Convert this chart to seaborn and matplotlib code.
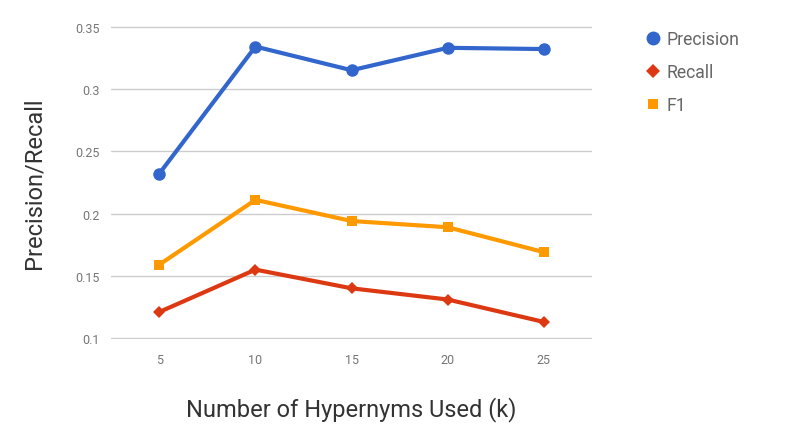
import pandas as pd
import seaborn as sns
import matplotlib.pyplot as plt
from matplotlib.lines import Line2D

# valeurs
k_values = [5, 10, 15, 20, 25]
precision = [0.232, 0.334, 0.315, 0.333, 0.332]
recall = [0.121, 0.155, 0.140, 0.131, 0.113]
f1 = [0.159, 0.211, 0.194, 0.189, 0.169]

metrics = ['Precision', 'Recall', 'F1']
colors = {'Precision': '#3366cc', 'Recall': '#dc3912', 'F1': '#ff9900'}
markers = {'Precision': 'o', 'Recall': 'D', 'F1': 's'}
msizes = {'Precision': 9, 'Recall': 6.5, 'F1': 6.5}

df = pd.DataFrame({'k': k_values, 'Precision': precision, 'Recall': recall, 'F1': f1})
long_df = df.melt(id_vars='k', var_name='metric', value_name='value')

sns.set_style('whitegrid')
plt.rcParams['font.family'] = ['Roboto', 'DejaVu Sans']

fig = plt.figure(figsize=(8, 4.39), dpi=100)
ax = fig.add_axes([0.139, 0.226, 0.601, 0.7125])

sns.lineplot(data=long_df, x='k', y='value', hue='metric', style='metric',
             hue_order=metrics, style_order=metrics, palette=colors,
             markers=markers, dashes=False, linewidth=3, markeredgewidth=0,
             legend=False, ax=ax)

for line, m in zip(ax.lines, metrics):
    line.set_markersize(msizes[m])
    line.set_solid_joinstyle('round')

ax.set_xlim(2.5, 27.5)
ax.set_ylim(0.0995, 0.3505)
ax.set_xticks(k_values)
ax.set_yticks([0.1, 0.15, 0.2, 0.25, 0.3, 0.35])
ax.set_yticklabels(['0.1', '0.15', '0.2', '0.25', '0.3', '0.35'])
ax.grid(axis='x', visible=False)
ax.grid(axis='y', color='#cccccc', linewidth=1)
for s in ax.spines.values():
    s.set_visible(False)
ax.tick_params(axis='both', labelsize=9, labelcolor='#757575', length=0, pad=8)
ax.tick_params(axis='x', pad=10)

ax.set_xlabel('Number of Hypernyms Used (k)', fontsize=17, color='#333333', labelpad=22)
ax.set_ylabel('Precision/Recall', fontsize=17, color='#333333', labelpad=22)

handles = [Line2D([], [], linestyle='none', marker=markers[m], color=colors[m],
                  markersize=msizes[m] + 1, markeredgewidth=0) for m in metrics]
fig.legend(handles, metrics, loc='upper left', bbox_to_anchor=(0.785, 0.965),
           frameon=False, fontsize=12.7, labelcolor='#666666', handletextpad=0.3,
           labelspacing=0.85, handlelength=1)

fig.savefig('out.png', dpi=100)
